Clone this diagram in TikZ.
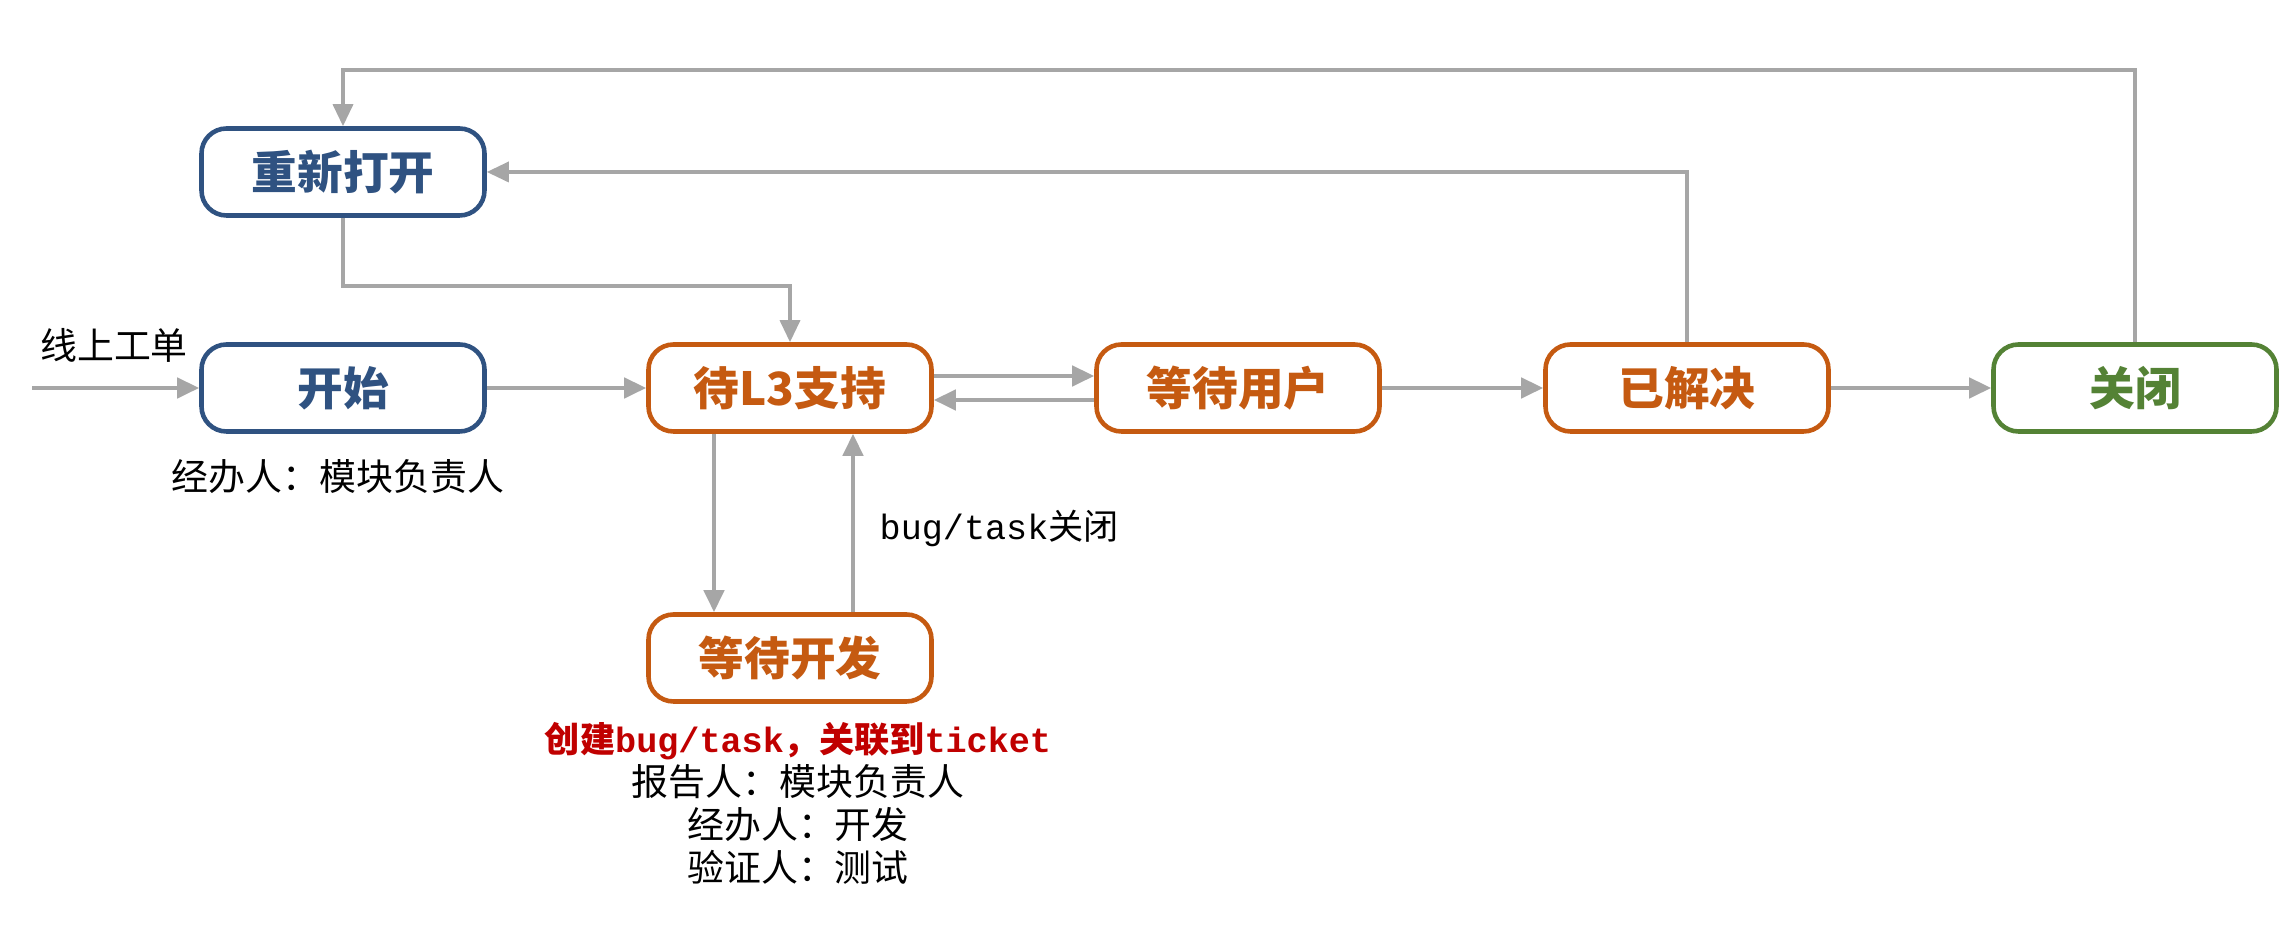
\documentclass[tikz,border=0pt]{standalone}
\usepackage{fontspec}
\setmainfont{Noto Sans CJK SC}
\setmonofont{Liberation Mono}
\usepackage{tikz}
\usetikzlibrary{arrows.meta, positioning, calc}
\definecolor{mBlue}{HTML}{2F5281}
\definecolor{mOrange}{HTML}{C55A11}
\definecolor{mGreen}{HTML}{548235}
\definecolor{mGray}{HTML}{A6A6A6}
\definecolor{mRed}{HTML}{C00000}

\begin{document}
\begin{tikzpicture}[
    statebox/.style={draw, rounded corners=2.5mm, line width=1.3pt, fill=white, minimum height=8.7mm, minimum width=28.3mm, font=\fontsize{13}{15}\selectfont\bfseries},
    bluebox/.style={statebox, draw=mBlue, text=mBlue},
    orangebox/.style={statebox, draw=mOrange, text=mOrange},
    greenbox/.style={statebox, draw=mGreen, text=mGreen},
    arr/.style={-{Triangle[length=2.2mm, width=2mm]}, line width=1.3pt, mGray},
    loop/.style={arr, line width=1pt},
    note/.style={font=\fontsize{10.5}{12}\selectfont, text height=2.6mm, text depth=0.8mm, inner sep=0pt}
  ]
    \useasboundingbox (0,0) rectangle (22.86,9.30);
    % states
    \node[bluebox] (reopen) at (3.43,7.58) {重新打开};
    \node[bluebox] (start) at (3.43,5.42) {开始};
    \node[orangebox] (waitl3) at (7.90,5.42) {待L3支持};
    \node[orangebox] (waituser) at (12.38,5.42) {等待用户};
    \node[orangebox] (solved) at (16.87,5.42) {已解决};
    \node[greenbox] (closed) at (21.35,5.42) {关闭};
    \node[orangebox] (waitdev) at (7.90,2.72) {等待开发};

    % labels
    \node[note] (intext) at (1.14,5.79) {线上工单};
    \node[note] (startnote) at (3.38,4.48) {经办人：模块负责人};
    \node[note, anchor=west, font=\fontsize{10}{12}\selectfont] (devclose) at (8.79,3.99) {{\ttfamily bug/task}关闭};
    \node[note, text=mRed, font=\fontsize{10}{12}\selectfont\bfseries] (devnote1) at (7.98,1.86) {创建{\ttfamily bug/task}，关联到{\ttfamily ticket}};
    \node[note] (devnote2) at (7.98,1.43) {报告人：模块负责人};
    \node[note] (devnote3) at (7.98,1.00) {经办人：开发};
    \node[note] (devnote4) at (7.98,0.57) {验证人：测试};

    % connectors
    \coordinate (in) at (0.32,5.42);
    \coordinate (toprow) at (0,8.60);
    \coordinate (midrow) at (0,6.44);
    \draw[arr] (in) -- (start.west);
    \draw[arr] (start.east) -- (waitl3.west);
    \draw[arr] ([yshift=1.2mm]waitl3.east) -- ([yshift=1.2mm]waituser.west);
    \draw[arr] ([yshift=-1.2mm]waituser.west) -- ([yshift=-1.2mm]waitl3.east);
    \draw[arr] (waituser.east) -- (solved.west);
    \draw[arr] (solved.east) -- (closed.west);
    \draw[arr] ([xshift=-7.6mm]waitl3.south) -- ([xshift=-7.6mm]waitdev.north);
    \draw[arr] ([xshift=6.3mm]waitdev.north) -- ([xshift=6.3mm]waitl3.south);
    \draw[loop] (reopen.south) -- (reopen.south |- midrow) -| (waitl3.north);
    \draw[loop] (solved.north) |- (reopen.east);
    \draw[loop] (closed.north) -- (closed.north |- toprow) -| (reopen.north);
  \end{tikzpicture}
\end{document}
